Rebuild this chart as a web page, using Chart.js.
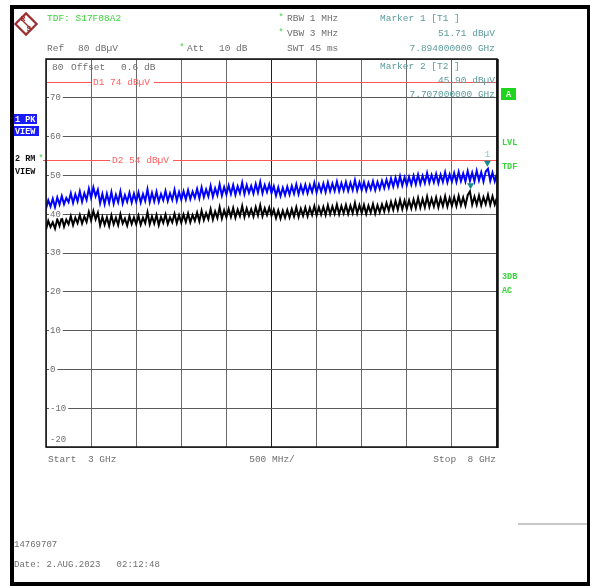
<!DOCTYPE html>
<html>
<head>
<meta charset="utf-8">
<script src="https://cdn.jsdelivr.net/npm/chart.js@4.4.1/dist/chart.umd.min.js"></script>
<style>
  html, body { margin: 0; padding: 0; background: #fff; }
  canvas { display: block; }
</style>
</head>
<body>
<canvas id="spectrum" width="590" height="586" style="width:590px;height:586px"></canvas>
<script>
// sweep settings
const startGHz = 3;
const stopGHz = 8;
const sweepPoints = 201;

// y axis grid labels (dBuV)
const yTickLabels = [70, 60, 50, 40, 30, 20, 10, 0, -10];

// trace 1: PK / max hold (blue), dBuV
const trace1 = [
  41.4, 43.6, 42.0, 44.0, 41.8, 44.3, 42.5, 44.7, 42.6, 44.2, 43.1, 45.4, 42.9, 45.1, 43.3, 45.9, 43.2, 45.4, 43.7, 46.6,
  44.2, 46.9, 44.6, 46.3, 42.8, 45.2, 42.6, 45.3, 42.9, 45.7, 42.7, 45.0, 43.1, 45.9, 42.8, 44.9, 43.2, 45.5, 43.0, 45.3,
  43.2, 45.6, 43.0, 45.2, 43.4, 46.4, 43.1, 45.5, 43.3, 45.8, 43.2, 45.2, 43.6, 46.0, 43.4, 45.4, 43.7, 46.3, 43.5, 45.7,
  43.7, 45.9, 43.8, 46.2, 43.9, 45.8, 44.2, 46.5, 44.1, 46.9, 44.4, 46.4, 44.6, 47.3, 44.5, 46.7, 44.9, 47.7, 44.8, 47.0,
  45.1, 47.4, 45.2, 47.5, 45.0, 47.2, 45.4, 48.1, 45.2, 47.5, 45.5, 47.3, 45.3, 47.8, 45.6, 48.3, 45.4, 47.5, 45.7, 47.7,
  45.4, 47.2, 44.8, 46.9, 44.7, 46.8, 44.9, 47.1, 45.1, 47.3, 45.3, 47.7, 45.2, 47.4, 45.5, 47.6, 45.4, 47.5, 45.7, 48.1,
  45.6, 47.7, 45.8, 47.9, 45.7, 48.2, 45.9, 47.9, 46.0, 48.4, 45.9, 48.0, 46.1, 48.3, 46.0, 48.1, 46.2, 48.8, 46.1, 48.2,
  46.2, 48.3, 46.1, 48.1, 46.4, 48.5, 46.2, 48.3, 46.5, 48.6, 46.7, 48.9, 46.9, 49.2, 47.1, 49.4, 47.3, 49.8, 47.4, 49.5,
  47.5, 49.6, 47.6, 49.9, 47.7, 50.2, 47.8, 49.9, 48.0, 50.6, 48.1, 50.1, 48.2, 50.4, 48.0, 50.2, 48.3, 50.8, 48.2, 50.3,
  48.4, 50.6, 48.3, 50.9, 48.5, 50.5, 48.4, 51.1, 48.6, 50.7, 48.5, 51.2, 48.7, 50.8, 48.4, 51.0, 51.7, 48.6, 50.7, 48.5, 50.5
];

// trace 2: RM / rms (black), dBuV
const trace2 = [
  36.0, 38.3, 36.7, 37.9, 36.3, 38.7, 37.0, 39.2, 36.8, 38.6, 37.4, 39.5, 37.2, 39.1, 37.7, 39.8, 37.6, 39.4, 38.0, 40.6,
  38.4, 40.8, 38.7, 40.4, 37.1, 39.3, 37.3, 39.2, 37.0, 39.7, 37.4, 39.1, 37.2, 40.0, 37.6, 38.9, 37.1, 39.5, 37.5, 39.2,
  37.4, 39.6, 37.3, 39.1, 37.7, 40.5, 37.4, 39.4, 37.6, 39.8, 37.2, 39.3, 37.8, 39.9, 37.5, 39.2, 37.9, 40.1, 37.7, 39.7,
  37.8, 39.9, 38.0, 40.2, 37.9, 39.8, 38.3, 40.4, 38.2, 40.9, 38.5, 40.3, 38.7, 41.3, 38.6, 40.7, 39.0, 41.8, 38.9, 41.0,
  39.2, 41.4, 39.3, 41.6, 39.1, 41.2, 39.5, 42.1, 39.3, 41.5, 39.6, 41.3, 39.4, 41.8, 39.7, 42.3, 39.5, 41.5, 39.8, 41.7,
  39.6, 41.2, 39.0, 41.0, 38.9, 40.9, 39.1, 41.1, 39.2, 41.3, 39.4, 41.8, 39.3, 41.4, 39.6, 41.7, 39.5, 41.6, 39.8, 42.1,
  39.7, 41.8, 39.9, 41.9, 39.8, 42.3, 40.0, 42.0, 40.1, 42.5, 40.0, 42.1, 40.2, 42.4, 40.1, 42.2, 40.3, 42.9, 40.2, 42.3,
  40.3, 42.4, 40.1, 42.2, 40.4, 42.6, 40.2, 42.3, 40.5, 42.5, 40.7, 42.9, 40.9, 43.2, 41.1, 43.4, 41.2, 43.7, 41.3, 43.5,
  41.4, 43.6, 41.5, 43.8, 41.6, 44.2, 41.7, 43.9, 41.8, 44.5, 41.9, 44.0, 42.0, 44.3, 41.8, 44.1, 42.1, 44.6, 42.0, 44.2,
  42.2, 44.4, 42.1, 44.7, 42.3, 44.3, 42.2, 44.9, 45.9, 42.5, 44.5, 42.4, 44.8, 42.3, 44.4, 42.6, 45.0, 42.4, 44.6, 42.5, 44.3
];

// markers
const markerNames = ["1", "2"];
const markerFreqs = [7.894, 7.707];
const markerLevels = [51.71, 45.90];

// display lines
const displayLineNames = ["D1 74 dB\u00b5V", "D2 54 dB\u00b5V"];
const displayLineLevels = [74, 54];

const step = (stopGHz - startGHz) / (sweepPoints - 1);
const freqs = trace1.map((_, i) => startGHz + i * step);

const MONO = '"Liberation Mono", "DejaVu Sans Mono", monospace';
const GRAY = "#6e6e6e";
const GREEN = "#3ad43a";
const TEAL = "#5d9c9c";

function text(ctx, s, x, y, color, align, size, weight) {
  ctx.font = (weight || "normal") + " " + (size || 9.5) + "px " + MONO;
  ctx.fillStyle = color;
  ctx.textAlign = align || "left";
  ctx.textBaseline = "middle";
  ctx.fillText(s, x, y);
}

const screenPlugin = {
  id: "screen",
  beforeDraw(chart) {
    const ctx = chart.ctx;
    ctx.save();
    ctx.fillStyle = "#fff";
    ctx.fillRect(0, 0, chart.width, chart.height);
    ctx.restore();
  },
  afterDraw(chart) {
    const ctx = chart.ctx;
    const xs = chart.scales.x, ys = chart.scales.y;
    const a = chart.chartArea;
    ctx.save();

    // display lines
    displayLineLevels.forEach((lv, i) => {
      const y = Math.round(ys.getPixelForValue(lv)) + 0.5;
      const lx = i === 0 ? 93 : 112;
      ctx.strokeStyle = "#ff5555";
      ctx.lineWidth = 1.2;
      ctx.beginPath();
      ctx.moveTo(i === 0 ? a.left : 43, y);
      ctx.lineTo(lx - 2, y);
      ctx.moveTo(lx + 61, y);
      ctx.lineTo(a.right, y);
      ctx.stroke();
      text(ctx, displayLineNames[i], lx, y, "#ff6060");
    });
    text(ctx, "*", 41, ys.getPixelForValue(54) - 1, GREEN, "center", 9);

    // markers
    markerFreqs.forEach((f, i) => {
      const x = xs.getPixelForValue(f);
      const y = ys.getPixelForValue(markerLevels[i]) - 2;
      ctx.fillStyle = "#178a8a";
      ctx.beginPath();
      ctx.moveTo(x - 3.5, y - 6);
      ctx.lineTo(x + 3.5, y - 6);
      ctx.lineTo(x, y);
      ctx.closePath();
      ctx.fill();
      if (i === 0) text(ctx, markerNames[i], x, y - 12, "#8cc4c4", "center", 9);
    });

    // y labels inside the grid
    yTickLabels.forEach(v => {
      const y = ys.getPixelForValue(v);
      ctx.font = "normal 9px " + MONO;
      const w = ctx.measureText(String(v)).width;
      ctx.fillStyle = "#fff";
      ctx.fillRect(a.left + 3, y - 4, w + 3, 8);
      text(ctx, String(v), a.left + 4, y, GRAY, "left", 9);
    });
    text(ctx, "-20", a.left + 4, a.bottom - 7, GRAY, "left", 9);
    text(ctx, "80", a.left + 6, a.top + 8, GRAY);
    text(ctx, "Offset", a.left + 25, a.top + 8, GRAY);
    text(ctx, "0.6", a.left + 75, a.top + 8, GRAY);
    text(ctx, "dB", a.left + 98, a.top + 8, GRAY);

    // marker 2 readout inside grid
    text(ctx, "Marker 2 [T2 ]", 380, 66, TEAL);
    text(ctx, "45.90 dB\u00b5V", 495, 80, TEAL, "right");
    text(ctx, "7.707000000 GHz", 495, 94, TEAL, "right");

    // plot frame
    ctx.strokeStyle = "#111";
    ctx.lineWidth = 1.5;
    ctx.strokeRect(a.left, a.top, a.right - a.left, a.bottom - a.top);
    ctx.lineWidth = 2.5;
    ctx.beginPath();
    ctx.moveTo(a.right + 0.5, a.top);
    ctx.lineTo(a.right + 0.5, a.bottom + 1);
    ctx.stroke();

    // R&S logo
    const RED = "#9c2f2f";
    ctx.save();
    ctx.translate(26, 24);
    ctx.rotate(Math.PI / 4);
    ctx.strokeStyle = RED;
    ctx.lineWidth = 2.2;
    ctx.strokeRect(-7.5, -7.5, 15, 15);
    ctx.lineWidth = 1.3;
    ctx.beginPath();
    ctx.moveTo(-7.5, 0);
    ctx.lineTo(7.5, 0);
    ctx.stroke();
    ctx.restore();
    text(ctx, "R", 23, 19, RED, "center", 8, "bold");
    text(ctx, "S", 29, 29, RED, "center", 8, "bold");

    // header
    text(ctx, "TDF: S17F08A2", 47, 18, GREEN);
    text(ctx, "Ref", 47, 48, GRAY);
    text(ctx, "80 dB\u00b5V", 78, 48, GRAY);
    text(ctx, "*", 182, 48, GREEN, "center", 9);
    text(ctx, "Att", 187, 48, GRAY);
    text(ctx, "10 dB", 219, 48, GRAY);
    text(ctx, "*", 281, 18, GREEN, "center", 9);
    text(ctx, "RBW 1 MHz", 287, 18, GRAY);
    text(ctx, "*", 281, 33, GREEN, "center", 9);
    text(ctx, "VBW 3 MHz", 287, 33, GRAY);
    text(ctx, "SWT 45 ms", 287, 48, GRAY);
    text(ctx, "Marker 1 [T1 ]", 380, 18, TEAL);
    text(ctx, "51.71 dB\u00b5V", 495, 33, TEAL, "right");
    text(ctx, "7.894000000 GHz", 495, 48, TEAL, "right");

    // A box
    ctx.fillStyle = "#1fd41f";
    ctx.fillRect(501, 88, 15, 12);
    text(ctx, "A", 508.5, 94.5, "#fff", "center", 8.5, "bold");

    // left trace labels
    ctx.fillStyle = "#1a1aff";
    ctx.fillRect(14, 114, 23, 10);
    ctx.fillRect(14, 126, 25, 10);
    text(ctx, "1 PK", 15, 119.5, "#fff", "left", 8.5, "bold");
    text(ctx, "VIEW", 15, 131.5, "#fff", "left", 8.5, "bold");
    text(ctx, "2 RM", 15, 159, "#111", "left", 8.5, "bold");
    text(ctx, "VIEW", 15, 172, "#111", "left", 8.5, "bold");

    // right status labels
    text(ctx, "LVL", 502, 143, GREEN, "left", 8.5, "bold");
    text(ctx, "TDF", 502, 167, GREEN, "left", 8.5, "bold");
    text(ctx, "3DB", 502, 277, GREEN, "left", 8.5, "bold");
    text(ctx, "AC", 502, 291, GREEN, "left", 8.5, "bold");

    // bottom axis text
    text(ctx, "Start  3 GHz", 48, 459, GRAY);
    text(ctx, "500 MHz/", 272, 459, GRAY, "center");
    text(ctx, "Stop  8 GHz", 496, 459, GRAY, "right");

    text(ctx, "14769707", 14, 545, GRAY, "left", 9);
    text(ctx, "Date: 2.AUG.2023   02:12:48", 14, 565, GRAY, "left", 9);

    ctx.fillStyle = "#c8c8c8";
    ctx.fillRect(518, 523, 72, 2);

    // outer frame
    ctx.fillStyle = "#000";
    ctx.fillRect(10, 5, 4, 581);
    ctx.fillRect(10, 5, 580, 4);
    ctx.fillRect(10, 582, 580, 4);
    ctx.fillRect(587, 5, 3, 581);

    ctx.restore();
  }
};

const ctx = document.getElementById("spectrum").getContext("2d");
new Chart(ctx, {
  type: "line",
  data: {
    datasets: [
      {
        label: "1 PK",
        data: freqs.map((f, i) => ({ x: f, y: trace1[i] })),
        borderColor: "#0000ff",
        borderWidth: 2,
        pointRadius: 0,
        tension: 0
      },
      {
        label: "2 RM",
        data: freqs.map((f, i) => ({ x: f, y: trace2[i] })),
        borderColor: "#000000",
        borderWidth: 2,
        pointRadius: 0,
        tension: 0
      }
    ]
  },
  options: {
    responsive: false,
    animation: false,
    layout: { padding: { left: 46, top: 59, right: 93, bottom: 139 } },
    plugins: { legend: { display: false }, tooltip: { enabled: false } },
    scales: {
      x: {
        type: "linear",
        min: startGHz,
        max: stopGHz,
        ticks: { display: false, stepSize: 0.5 },
        grid: {
          drawTicks: false,
          lineWidth: 1,
          color: c => (c.index === 5 ? "#222" : "#6a6a6a")
        },
        border: { display: false }
      },
      y: {
        min: -20,
        max: 80,
        ticks: { display: false, stepSize: 10 },
        grid: { drawTicks: false, lineWidth: 1, color: "#5a5a5a" },
        border: { display: false }
      }
    }
  },
  plugins: [screenPlugin]
});
</script>
</body>
</html>
